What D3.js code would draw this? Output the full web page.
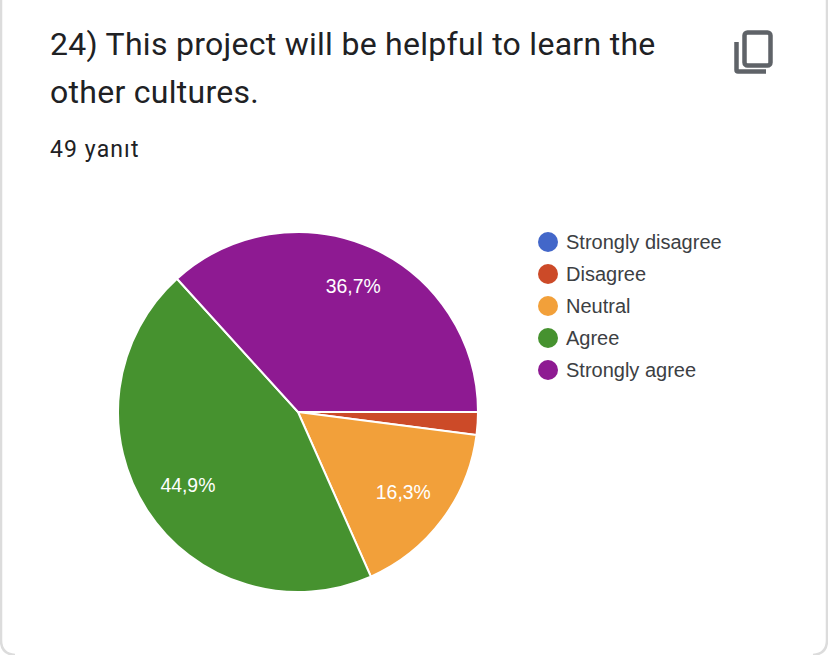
<!DOCTYPE html>
<html>
<head>
<meta charset="utf-8">
<script src="https://cdn.jsdelivr.net/npm/d3@7"></script>
<style>
html, body { margin: 0; padding: 0; background: #fff; overflow: hidden; }
</style>
</head>
<body>
<svg id="chart"></svg>
<script>
const categories = ['Strongly disagree', 'Disagree', 'Neutral', 'Agree', 'Strongly agree'];
const answers = [0, 1, 8, 22, 18];
const percentLabels = ['', '', '16,3%', '44,9%', '36,7%'];
const colors = ['#4367c9', '#cc4a28', '#f2a03a', '#46922f', '#8e1a92'];
const titleLines = ['24) This project will be helpful to learn the', 'other cultures.'];
const subtitle = '49 yanıt';

const width = 828, height = 655;
const cx = 298, cy = 412, radius = 180;

const svg = d3.select('#chart')
    .attr('width', width)
    .attr('height', height)
    .style('display', 'block');

// card border, only the sides and rounded bottom corners show
svg.append('path')
    .attr('d', 'M1,0 V640 Q1,654 15,655 M827,0 V640 Q827,654 813,655')
    .attr('fill', 'none')
    .attr('stroke', '#dcdcdc')
    .attr('stroke-width', 2.5);

svg.selectAll('text.title')
    .data(titleLines)
    .enter().append('text')
    .attr('class', 'title')
    .attr('x', 50)
    .attr('y', function(d, i) { return 54.5 + i * 48; })
    .attr('font-family', 'Roboto, sans-serif')
    .attr('font-size', 32)
    .attr('letter-spacing', 0.28)
    .attr('fill', '#202124')
    .text(function(d) { return d; });

svg.append('text')
    .attr('x', 50)
    .attr('y', 156.5)
    .attr('font-family', 'Roboto, sans-serif')
    .attr('font-size', 23)
    .attr('letter-spacing', 1.1)
    .attr('fill', '#202124')
    .text(subtitle);

// copy icon
const icon = svg.append('g').attr('fill', 'none').attr('stroke', '#5f6368').attr('stroke-width', 4.5);
icon.append('rect')
    .attr('x', 744.5).attr('y', 32.5)
    .attr('width', 26).attr('height', 33)
    .attr('rx', 3);
icon.append('path')
    .attr('d', 'M736.5,42 V70 Q736.5,71.5 738,71.5 H766');

const pie = d3.pie()
    .sort(null)
    .startAngle(Math.PI / 2)
    .endAngle(Math.PI * 2.5)(answers);

const arc = d3.arc().innerRadius(0).outerRadius(radius);
const labelArc = d3.arc().innerRadius(radius * 0.73).outerRadius(radius * 0.73);

const g = svg.append('g').attr('transform', 'translate(' + cx + ',' + cy + ')');

g.selectAll('path')
    .data(pie)
    .enter().append('path')
    .attr('d', arc)
    .attr('fill', function(d, i) { return colors[i]; })
    .attr('stroke', '#fff')
    .attr('stroke-width', function(d) { return d.value > 0 ? 2 : 0; });

g.selectAll('text')
    .data(pie)
    .enter().append('text')
    .attr('transform', function(d) {
        let c = labelArc.centroid(d);
        // the biggest top slice label sits a bit further out
        if (d.index === 4) { c = [c[0] + 2, c[1] - 7]; }
        return 'translate(' + c[0] + ',' + (c[1] + 1.5) + ')';
    })
    .attr('text-anchor', 'middle')
    .attr('dy', '0.35em')
    .attr('font-family', 'Arimo, "Liberation Sans", Arial, sans-serif')
    .attr('font-size', 19.4)
    .attr('fill', '#fff')
    .text(function(d, i) { return percentLabels[i]; });

const y = d3.scalePoint().domain(categories).range([242, 370]);

const legend = svg.selectAll('g.legend')
    .data(categories)
    .enter().append('g')
    .attr('class', 'legend')
    .attr('transform', function(d) { return 'translate(548,' + y(d) + ')'; });

legend.append('circle')
    .attr('r', 10)
    .attr('fill', function(d, i) { return colors[i]; });

legend.append('text')
    .attr('x', 18)
    .attr('dy', '0.35em')
    .attr('font-family', 'Arimo, "Liberation Sans", Arial, sans-serif')
    .attr('font-size', 20)
    .attr('fill', '#3c4043')
    .text(function(d) { return d; });
</script>
</body>
</html>
